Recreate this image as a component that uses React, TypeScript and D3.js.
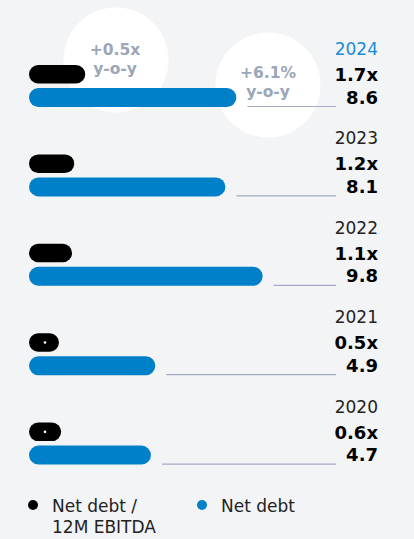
import React, { useEffect, useRef } from 'react';
import * as d3 from 'd3';

// chart data, newest year first
const years = ['2024', '2023', '2022', '2021', '2020'];
const ratioValues = [1.7, 1.2, 1.1, 0.5, 0.6]; // net debt / 12M EBITDA
const debtValues = [8.6, 8.1, 9.8, 4.9, 4.7]; // net debt
const ratioLabels = ['1.7x', '1.2x', '1.1x', '0.5x', '0.6x'];
const debtLabels = ['8.6', '8.1', '9.8', '4.9', '4.7'];
const bubbleLabels = [
  ['+0.5x', 'y-o-y'],
  ['+6.1%', 'y-o-y'],
];
const legendItems = [
  { lines: ['Net debt /', '12M EBITDA'], color: '#000000' },
  { lines: ['Net debt'], color: '#0080c9' },
];

const App = () => {
  const ref = useRef<SVGSVGElement>(null);

  useEffect(() => {
    const svg = d3.select(ref.current);
    svg.selectAll('*').remove();

    const width = 414;
    const height = 539;
    const font = '"DejaVu Sans", sans-serif';
    const blue = '#0080c9';

    svg.append('rect').attr('width', width).attr('height', height).attr('fill', '#f3f4f6');

    // === scales ===
    const y = d3.scaleBand().domain(years).range([65, 512]).paddingInner(0).paddingOuter(0);
    const w = d3.scaleLinear().domain([0, 10]).range([19, 238]);
    const x0 = 29;
    const barH = 18.5;
    const rightX = 378;

    // === bubbles behind the bars ===
    const bubbles = [
      { cx: 116, cy: 60 },
      { cx: 268, cy: 85 },
    ];
    svg
      .selectAll('circle.bubble')
      .data(bubbles)
      .join('circle')
      .attr('cx', (d) => d.cx)
      .attr('cy', (d) => d.cy)
      .attr('r', 52.5)
      .attr('fill', '#ffffff');

    const rows = years.map((yr, i) => ({
      year: yr,
      ratio: ratioValues[i],
      debt: debtValues[i],
      ratioLabel: ratioLabels[i],
      debtLabel: debtLabels[i],
    }));

    const g = svg
      .selectAll('g.row')
      .data(rows)
      .join('g')
      .attr('class', 'row')
      .attr('transform', (d) => `translate(0,${y(d.year)})`);

    // connector line from bar end to value
    g.append('line')
      .attr('x1', (d) => x0 + w(d.debt) + 11)
      .attr('x2', 336)
      .attr('y1', 41.5)
      .attr('y2', 41.5)
      .attr('stroke', '#a3adc2')
      .attr('stroke-width', 1.2);

    g.append('rect')
      .attr('x', x0)
      .attr('y', 0)
      .attr('width', (d) => w(d.ratio))
      .attr('height', barH)
      .attr('rx', barH / 2)
      .attr('fill', '#000');

    // small white mark inside the short ratio bars
    g.filter((d) => d.ratio < 1)
      .append('circle')
      .attr('cx', x0 + 16)
      .attr('cy', barH / 2)
      .attr('r', 1.3)
      .attr('fill', '#fff');

    g.append('rect')
      .attr('x', x0)
      .attr('y', 23)
      .attr('width', (d) => w(d.debt))
      .attr('height', barH + 0.5)
      .attr('rx', (barH + 0.5) / 2)
      .attr('fill', blue);

    g.append('text')
      .attr('x', rightX)
      .attr('y', -10)
      .attr('text-anchor', 'end')
      .attr('font-family', font)
      .attr('font-size', 17)
      .attr('fill', (d, i) => (i === 0 ? '#1a8bd6' : '#222'))
      .text((d) => d.year);

    g.append('text')
      .attr('x', rightX)
      .attr('y', 16)
      .attr('text-anchor', 'end')
      .attr('font-family', font)
      .attr('font-size', 18)
      .attr('font-weight', 'bold')
      .attr('fill', '#000')
      .text((d) => d.ratioLabel);

    g.append('text')
      .attr('x', rightX)
      .attr('y', 38.5)
      .attr('text-anchor', 'end')
      .attr('font-family', font)
      .attr('font-size', 18)
      .attr('font-weight', 'bold')
      .attr('fill', '#000')
      .text((d) => d.debtLabel);

    // === bubble texts ===
    const bubbleText = [
      { x: 115, y: 55 },
      { x: 268, y: 78 },
    ];
    bubbleText.forEach((p, i) => {
      bubbleLabels[i].forEach((t, j) => {
        svg
          .append('text')
          .attr('x', p.x)
          .attr('y', p.y + j * 19)
          .attr('text-anchor', 'middle')
          .attr('font-family', font)
          .attr('font-size', 15.5)
          .attr('font-weight', 600)
          .attr('fill', '#9ba6b9')
          .text(t);
      });
    });

    // === legend ===
    const legendX = [33, 202];
    legendItems.forEach((item, i) => {
      svg
        .append('circle')
        .attr('cx', legendX[i])
        .attr('cy', 505)
        .attr('r', 5)
        .attr('fill', item.color);
      item.lines.forEach((t, j) => {
        svg
          .append('text')
          .attr('x', legendX[i] + 19)
          .attr('y', 512 + j * 21)
          .attr('font-family', font)
          .attr('font-size', 17)
          .attr('fill', '#222')
          .text(t);
      });
    });
  }, []);

  return (
    <svg
      ref={ref}
      width={414}
      height={539}
      style={{ position: 'absolute', left: 0, top: 0, display: 'block' }}
    ></svg>
  );
};

export default App;
